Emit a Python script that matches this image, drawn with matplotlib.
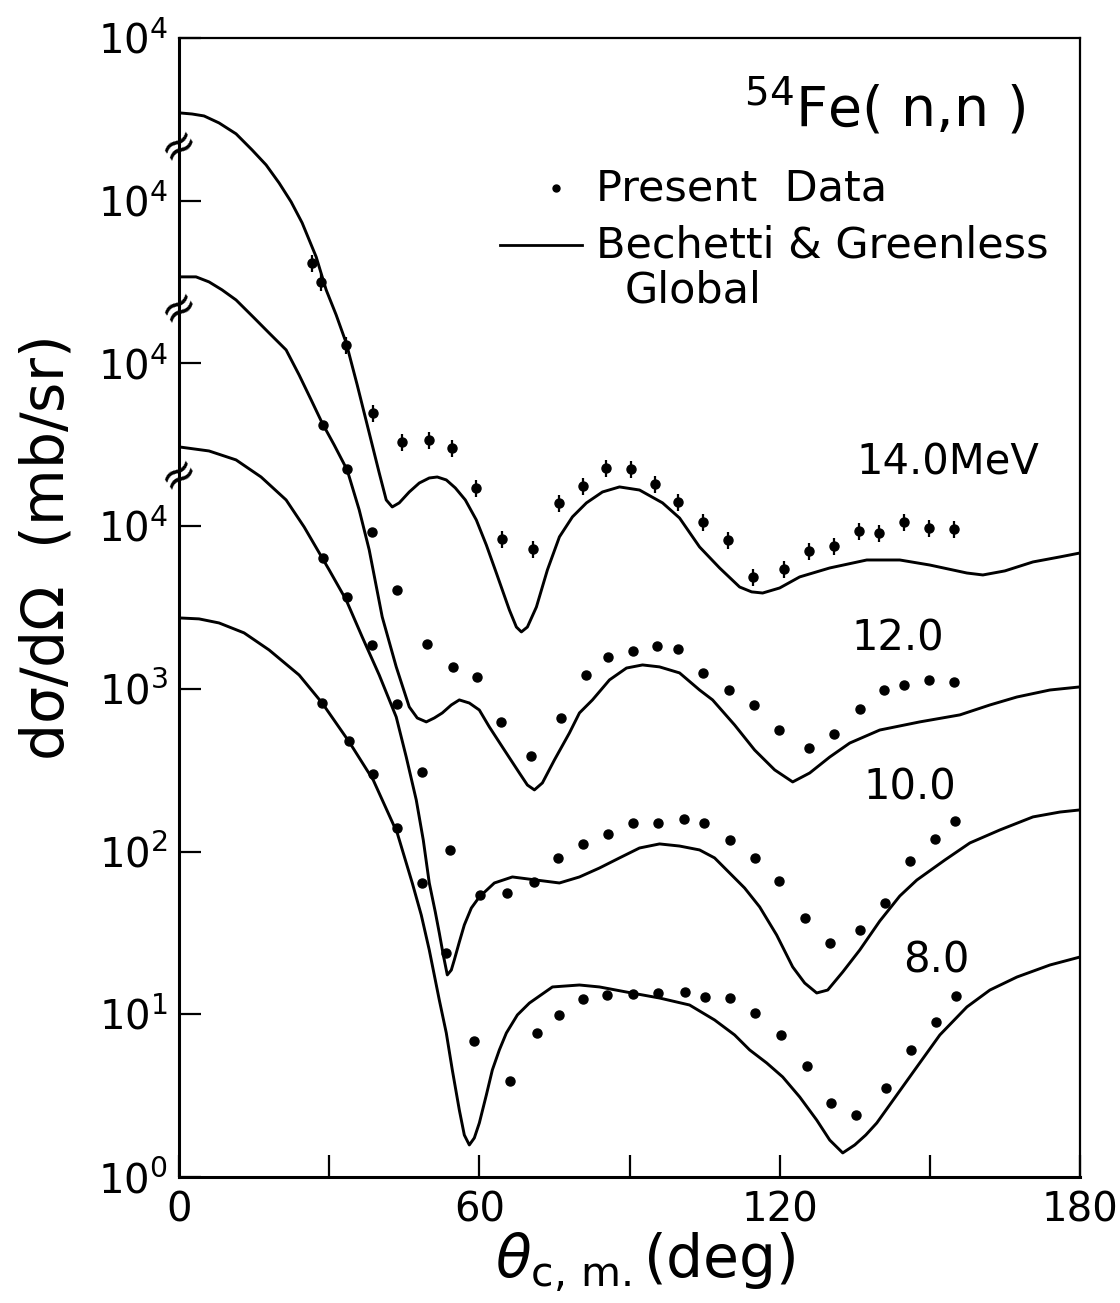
import matplotlib
matplotlib.use('Agg')
import matplotlib.pyplot as plt
import matplotlib.transforms as mtransforms
from matplotlib.lines import Line2D

plt.rcParams['font.family'] = ['DejaVu Sans']
plt.rcParams['mathtext.default'] = 'regular'

# ---------------- data ----------------
energy_labels = ['8.0', '10.0', '12.0', '14.0MeV']
scale_factors = [1, 10, 100, 1000]

# Bechetti & Greenless global optical-model curves: angle (deg), log10(dsigma/dOmega [mb/sr])
curve_ang_8 = [0, 4, 8, 13, 18, 24, 28.6, 34, 38.8, 43.6, 46.6, 48.4, 50, 52, 53.4, 54.6, 56, 57,
               58, 59, 60, 61.4, 62.6, 64, 65.4, 67.6, 70, 74.6, 80, 84, 90.4, 96, 102, 107, 111,
               114, 117.4, 120.6, 124, 127.4, 130, 132.6, 135, 137.2, 139.4, 143.4, 147.4, 152,
               157.4, 162, 167.4, 174, 180]
curve_log_8 = [3.436, 3.430, 3.405, 3.344, 3.239, 3.085, 2.913, 2.674, 2.440, 2.114, 1.807, 1.610,
               1.395, 1.088, 0.885, 0.658, 0.412, 0.258, 0.197, 0.240, 0.332, 0.504, 0.658, 0.781,
               0.885, 0.996, 1.069, 1.168, 1.180, 1.168, 1.131, 1.100, 1.057, 0.965, 0.873, 0.781,
               0.701, 0.615, 0.492, 0.350, 0.227, 0.148, 0.197, 0.258, 0.332, 0.504, 0.676, 0.873,
               1.045, 1.149, 1.229, 1.303, 1.352]

curve_ang_10 = [0, 6, 11.4, 16.4, 21.4, 25, 28.6, 30, 33.4, 36.6, 40, 43.4, 45.4, 47.4, 48.8, 50,
                51.2, 52, 52.8, 53.6, 54.4, 55, 56, 57, 58.4, 60, 63, 66.6, 71.4, 76, 80, 84, 88,
                92, 96, 100, 104, 107, 109.4, 113, 116, 119.4, 122.6, 125, 127.4, 129.6, 132.6,
                136, 140, 144, 147.4, 153, 158, 164, 170.6, 176, 180]
curve_log_10 = [3.487, 3.462, 3.407, 3.302, 3.161, 2.995, 2.805, 2.731, 2.546, 2.319, 2.085, 1.827,
                1.581, 1.317, 1.071, 0.807, 0.629, 0.500, 0.364, 0.242, 0.272, 0.334, 0.444, 0.549,
                0.653, 0.721, 0.807, 0.844, 0.825, 0.807, 0.844, 0.899, 0.961, 1.022, 1.047, 1.034,
                1.010, 0.961, 0.887, 0.776, 0.660, 0.487, 0.291, 0.192, 0.131, 0.149, 0.260, 0.395,
                0.573, 0.727, 0.825, 0.948, 1.053, 1.133, 1.213, 1.243, 1.256]

curve_ang_12 = [0, 3.4, 6, 8.6, 11.4, 15, 18, 21.4, 24, 26.4, 28.6, 31, 33.6, 36, 38, 40.6, 43.4,
                46, 47.6, 49.4, 51, 52.6, 54.4, 56, 58, 60, 62, 65, 68, 69.6, 71, 72.6, 75, 78, 80,
                82.6, 86, 89.4, 92.6, 96, 100, 104, 106.6, 111, 115, 119, 122.6, 126, 130, 134,
                140, 148, 156, 162, 167.4, 174, 180]
curve_log_12 = [3.532, 3.532, 3.501, 3.452, 3.390, 3.280, 3.187, 3.083, 2.929, 2.776, 2.634, 2.499,
                2.345, 2.100, 1.854, 1.442, 1.135, 0.889, 0.821, 0.797, 0.821, 0.852, 0.901, 0.932,
                0.913, 0.870, 0.766, 0.624, 0.483, 0.409, 0.379, 0.422, 0.563, 0.729, 0.852, 0.932,
                1.055, 1.128, 1.147, 1.135, 1.098, 0.993, 0.932, 0.778, 0.624, 0.502, 0.428, 0.483,
                0.581, 0.667, 0.747, 0.797, 0.840, 0.901, 0.950, 0.993, 1.012]

curve_ang_14 = [0, 2.6, 5, 8, 11.4, 14.6, 17.4, 20, 22.4, 24.6, 27.4, 29.4, 31.4, 33.4, 35.6, 38,
                40, 41.4, 42.6, 44, 46, 48, 50, 51.6, 53.4, 55.2, 57.2, 59.4, 61.4, 63.4, 66, 67.4,
                68.4, 69.6, 71.4, 73.6, 76, 78.6, 81.4, 84.6, 88, 92, 96.6, 100, 104, 108, 112,
                114.4, 116.6, 120, 124, 130, 137.4, 144, 150, 157.4, 160.6, 165, 170.6, 176, 180]
curve_log_14 = [3.540, 3.533, 3.521, 3.478, 3.411, 3.312, 3.220, 3.109, 2.993, 2.864, 2.655, 2.452,
                2.298, 2.126, 1.868, 1.573, 1.327, 1.161, 1.118, 1.143, 1.210, 1.265, 1.296, 1.302,
                1.284, 1.235, 1.161, 1.038, 0.884, 0.712, 0.485, 0.380, 0.350, 0.380, 0.503, 0.731,
                0.934, 1.057, 1.143, 1.210, 1.241, 1.222, 1.143, 1.050, 0.872, 0.743, 0.626, 0.596,
                0.589, 0.620, 0.688, 0.743, 0.792, 0.792, 0.761, 0.712, 0.700, 0.725, 0.780, 0.811,
                0.835]

# Present data (mb/sr, unscaled)
data_ang_8 = [28.6, 34.0, 38.8, 43.6, 48.6, 53.4, 59.0, 66.2, 71.6, 76.0, 80.8, 85.6, 90.6, 95.6,
              101.0, 105.0, 110.0, 115.0, 120.2, 125.4, 130.2, 135.2, 141.2, 146.2, 151.2, 155.2]
data_val_8 = [819, 479, 300, 140, 64.1, 23.8, 6.85, 3.89, 7.67, 9.90, 12.4, 13.1, 13.3, 13.5,
              13.7, 12.8, 12.6, 10.2, 7.46, 4.81, 2.85, 2.41, 3.52, 6.03, 8.97, 12.9]

data_ang_10 = [28.8, 33.6, 38.6, 43.6, 48.6, 54.2, 60.2, 65.6, 71.0, 75.8, 80.8, 85.8, 90.6, 95.6,
               100.8, 104.8, 110.0, 115.0, 119.8, 125.0, 130.0, 136.0, 141.0, 146.0, 151.0, 155.0]
data_val_10 = [638, 367, 186, 80.7, 30.8, 10.2, 5.41, 5.57, 6.50, 9.14, 11.1, 12.8, 15.0, 15.0,
               15.9, 15.0, 11.8, 9.14, 6.59, 3.91, 2.74, 3.30, 4.83, 8.75, 11.9, 15.4]

data_ang_12 = [28.8, 33.6, 38.6, 43.6, 49.6, 54.8, 59.6, 64.4, 70.4, 76.4, 81.4, 85.8, 90.6, 95.4,
               99.6, 104.6, 109.8, 114.8, 119.8, 125.8, 130.8, 136.0, 140.8, 144.8, 149.8, 154.8]
data_val_12 = [419, 225, 92.0, 40.6, 18.9, 13.6, 11.8, 6.27, 3.87, 6.62, 12.2, 15.7, 17.1, 18.4,
               17.6, 12.5, 9.84, 7.96, 5.58, 4.34, 5.28, 7.52, 9.84, 10.6, 11.4, 11.0]

data_ang_14 = [26.6, 28.4, 33.4, 38.8, 44.6, 50.0, 54.6, 59.4, 64.6, 70.8, 76.0, 80.8, 85.4, 90.2,
               95.0, 99.6, 104.6, 109.6, 114.6, 120.8, 125.8, 130.8, 135.8, 139.8, 144.8, 149.8,
               154.8]
data_val_14 = [415, 317, 130, 49.7, 33.0, 33.9, 30.3, 17.2, 8.34, 7.24, 13.9, 17.7, 22.8, 22.5,
               18.2, 14.1, 10.6, 8.22, 4.88, 5.46, 7.05, 7.55, 9.35, 9.08, 10.6, 9.75, 9.62]
rel_err_14 = 0.12

x_ticks = [0, 30, 60, 90, 120, 150, 180]
x_tick_labels = ['0', '', '60', '', '120', '', '180']
y_ticks = [1e0, 1e1, 1e2, 1e3, 1e4, 1e5, 1e6, 1e7]
y_tick_labels = ['$10^{0}$', '$10^{1}$', '$10^{2}$', '$10^{3}$',
                 '$10^{4}$', '$10^{4}$', '$10^{4}$', '$10^{4}$']
break_positions = [10**4.32, 10**5.35, 10**6.34]

curves = [(curve_ang_8, curve_log_8), (curve_ang_10, curve_log_10),
          (curve_ang_12, curve_log_12), (curve_ang_14, curve_log_14)]
datas = [(data_ang_8, data_val_8), (data_ang_10, data_val_10),
         (data_ang_12, data_val_12), (data_ang_14, data_val_14)]
label_pos = [(0.840, 0.190), (0.811, 0.342), (0.798, 0.473), (0.853, 0.627)]

# ---------------- figure ----------------
fig = plt.figure(figsize=(11.2, 13.03), dpi=100)
ax = fig.add_axes([179 / 1120, 1 - 1177 / 1303, 901 / 1120, 1139 / 1303])
ax.set_yscale('log')
ax.set_xlim(0, 180)
ax.set_ylim(1, 1e7)

for (ca, cl), (da, dv), s, lab, (lx, ly) in zip(curves, datas, scale_factors, energy_labels, label_pos):
    ax.plot(ca, [10 ** v * s for v in cl], color='black', lw=2.1,
            solid_joinstyle='round', solid_capstyle='round')
    yv = [v * s for v in dv]
    if s == 1000:
        ax.errorbar(da, yv, yerr=[v * rel_err_14 for v in yv], fmt='o', color='black',
                    ms=6.5, elinewidth=1.6, capsize=0)
    else:
        ax.plot(da, yv, 'o', color='black', ms=6.5)
    ax.text(lx, ly, lab, transform=ax.transAxes, fontsize=30, ha='center', va='center')

ax.set_xticks(x_ticks)
ax.set_xticklabels(x_tick_labels)
ax.set_yticks(y_ticks)
ax.set_yticklabels(y_tick_labels)
ax.yaxis.set_minor_locator(matplotlib.ticker.NullLocator())
ax.tick_params(axis='both', which='major', direction='in', length=16, width=1.6,
               labelsize=29, colors='black')
ax.tick_params(axis='x', pad=10)
ax.tick_params(axis='y', pad=8)
for side in ['left', 'bottom']:
    ax.spines[side].set_linewidth(2.2)
for side in ['top', 'right']:
    ax.spines[side].set_linewidth(1.6)

# axis-break marks on the left axis
trans = mtransforms.blended_transform_factory(ax.transAxes, ax.transData)
for yb in break_positions:
    ax.text(0.0, yb, '≈', transform=trans, fontsize=32, ha='center', va='center',
            rotation=35, clip_on=False)

# title / legend
ax.text(0.939, 0.9236, r'$^{54}$Fe( n,n )', transform=ax.transAxes, fontsize=40,
        ha='right', va='baseline')
ax.plot([0.418], [0.8683], 'o', color='black', ms=5, transform=ax.transAxes)
ax.text(0.4628, 0.8683, 'Present  Data', transform=ax.transAxes, fontsize=31,
        ha='left', va='center')
ax.add_line(Line2D([0.356, 0.447], [0.818, 0.818], color='black', lw=2.0,
                   transform=ax.transAxes))
ax.text(0.4628, 0.818, 'Bechetti & Greenless', transform=ax.transAxes, fontsize=31,
        ha='left', va='center')
ax.text(0.495, 0.7779, 'Global', transform=ax.transAxes, fontsize=31,
        ha='left', va='center')

fig.text(0.042, 0.578, r'd$\sigma$/d$\Omega$  (mb/sr)', rotation=90, fontsize=42,
         ha='center', va='center')
fig.text(0.576, 0.031, r'$\mathit{\theta}_{c,\,m.}$(deg)', fontsize=42,
         ha='center', va='center')

fig.savefig('out.png', dpi=100, facecolor='white')
